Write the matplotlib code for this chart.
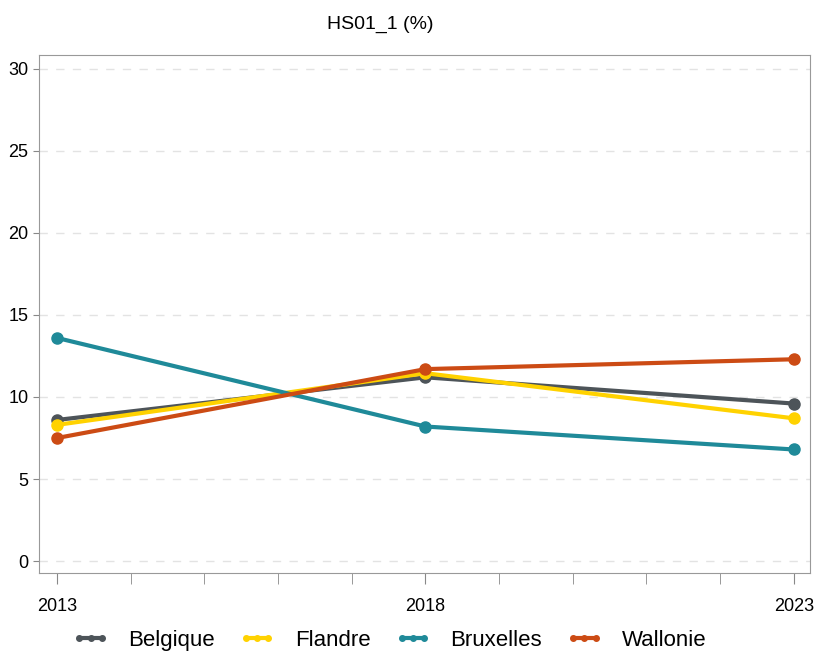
import numpy as np
import matplotlib.pyplot as plt

plt.rcParams['font.family'] = ['Liberation Sans', 'DejaVu Sans']

years = [2013, 2018, 2023]
belgique = [8.6, 11.2, 9.6]
flandre = [8.3, 11.45, 8.7]
bruxelles = [13.6, 8.2, 6.8]
wallonie = [7.5, 11.7, 12.3]

series = [("Belgique", belgique, "#4d5459"),
          ("Flandre", flandre, "#ffd200"),
          ("Bruxelles", bruxelles, "#1f8a99"),
          ("Wallonie", wallonie, "#cc4b14")]

fig = plt.figure(figsize=(8.17, 6.51), dpi=100)
ax = fig.add_axes([39 / 817, 1 - 573 / 651, 771 / 817, 518 / 651])

for name, vals, col in series:
    ax.plot(years, vals, color=col, lw=3, marker='o', ms=8, label=name)

ax.set_xlim(2012.755, 2023.22)
ax.set_ylim(-0.73, 30.85)
ax.set_xticks(years)
ax.set_xticks(np.arange(2013, 2024), minor=True)
ax.set_yticks(np.arange(0, 31, 5))
ax.tick_params(axis='x', which='both', length=8, direction='out', color='#888888', pad=10, labelsize=13)
ax.tick_params(axis='y', length=4, color='#888888', labelsize=13)
for s in ax.spines.values():
    s.set_color('#999999')
ax.yaxis.grid(True, ls=(0, (6, 6)), color='#e3e3e3', lw=1)
ax.set_axisbelow(True)

fig.text(0.465, 0.962, "HS01_1 (%)", ha='center', va='center', fontsize=14)
ax.legend(loc='center', bbox_to_anchor=(0.455, -0.13), ncol=4, frameon=False,
          fontsize=16, numpoints=3, markerscale=0.5, handlelength=1.6,
          columnspacing=1.1, handletextpad=0.9)

fig.savefig("out.png", dpi=100)
